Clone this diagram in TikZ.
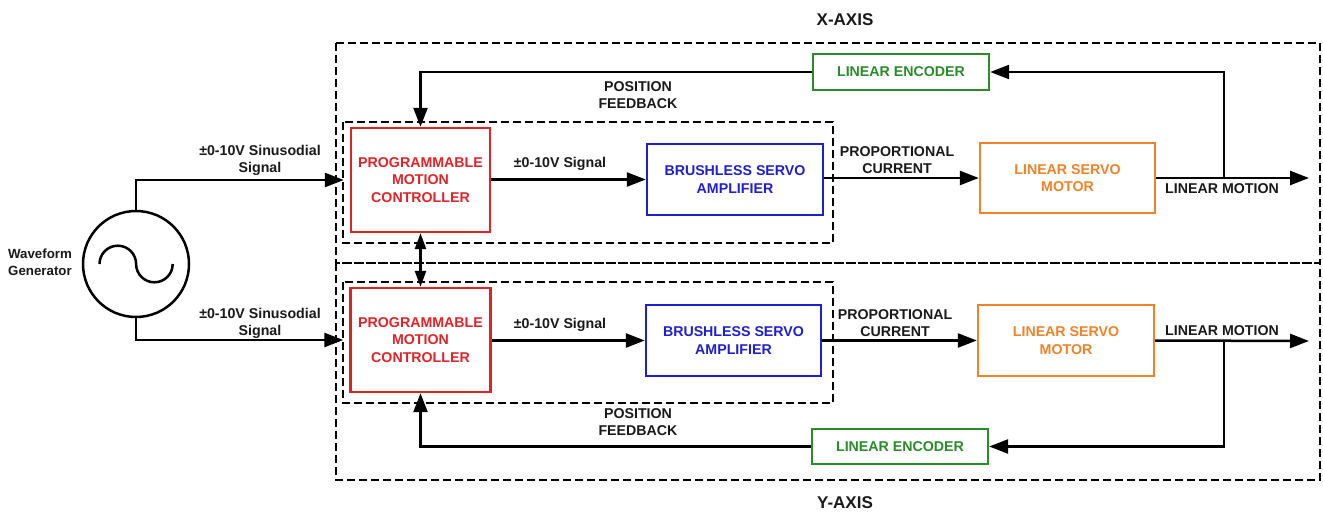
\documentclass[tikz,border=0pt]{standalone}
\usepackage{fontspec}
\setmainfont{Liberation Sans}
\usetikzlibrary{arrows.meta}
\definecolor{cred}{RGB}{225,35,40}
\definecolor{cblue}{RGB}{30,30,210}
\definecolor{corange}{RGB}{240,130,40}
\definecolor{cgreen}{RGB}{40,140,40}
\definecolor{ctext}{RGB}{25,25,25}
\begin{document}
\begin{tikzpicture}[x=1pt,y=1pt,
  lbl/.style={font=\fontsize{14.2}{17}\selectfont\bfseries, align=center, inner sep=0pt, text=ctext},
  blk/.style={draw=#1, text=#1, line width=2.4pt, font=\fontsize{14.2}{17.5}\selectfont\bfseries, align=center, inner sep=0pt},
  conn/.style={line width=2.5pt, -{Triangle[length=19pt,width=14pt]}},
  biconn/.style={line width=2.5pt, {Triangle[length=16pt,width=11pt]}-{Triangle[length=16pt,width=11pt]}},
  wire/.style={line width=2.5pt},
  dbox/.style={line width=2.5pt, dash pattern=on 8pt off 4pt},
]
\useasboundingbox (0,0) rectangle (1323,-514);

% dashed frames
\draw[dbox] (336,-43) rectangle (1320,-263);
\draw[dbox] (336,-263) rectangle (1320,-480);
\draw[dbox] (343,-122) rectangle (833,-243);
\draw[dbox] (343,-282) rectangle (833,-403);

% axis titles
\node[lbl, font=\fontsize{17}{20}\selectfont\bfseries] (xaxis) at (845,-20) {X-AXIS};
\node[lbl, font=\fontsize{17}{20}\selectfont\bfseries] (yaxis) at (845,-503) {Y-AXIS};

% waveform generator
\node[circle, draw, line width=2.5pt, minimum size=106pt, inner sep=0pt] (gen) at (136,-264) {};
\draw[wire] (99.5,-264) arc[start angle=180,end angle=0,radius=18.3] arc[start angle=180,end angle=360,radius=18.3];
\node[lbl, font=\fontsize{13.3}{16.5}\selectfont\bfseries] (genlbl) at (40,-262) {Waveform\\Generator};

% X axis blocks
\node[blk=cred, minimum width=139pt, minimum height=104pt] (ctrlX) at (420.5,-180) {PROGRAMMABLE\\MOTION\\CONTROLLER};
\node[blk=cblue, minimum width=176pt, minimum height=71pt] (ampX) at (735,-179.5) {BRUSHLESS SERVO\\AMPLIFIER};
\node[blk=corange, minimum width=175pt, minimum height=70pt] (motX) at (1067.5,-178) {LINEAR SERVO\\MOTOR};
\node[blk=cgreen, minimum width=176pt, minimum height=36pt] (encX) at (901,-72) {LINEAR ENCODER};

% Y axis blocks
\node[blk=cred, minimum width=140pt, minimum height=104pt] (ctrlY) at (420.5,-340) {PROGRAMMABLE\\MOTION\\CONTROLLER};
\node[blk=cblue, minimum width=175pt, minimum height=71pt] (ampY) at (733.5,-340.5) {BRUSHLESS SERVO\\AMPLIFIER};
\node[blk=corange, minimum width=176pt, minimum height=71pt] (motY) at (1066,-340.5) {LINEAR SERVO\\MOTOR};
\node[blk=cgreen, minimum width=176pt, minimum height=35pt] (encY) at (900,-446.5) {LINEAR ENCODER};

% coordinates
\coordinate (outX) at (1309,-178);
\coordinate (outY) at (1309,-341);
\coordinate (brX) at (1224,-178);
\coordinate (brY) at (1224,-341);

% generator connections
\draw[conn, shorten >=6pt] (gen.north) |- (ctrlX.west);
\draw[conn, shorten >=6pt] (gen.south) |- (ctrlY.west);

% X chain
\draw[conn] (ctrlX.east |- ampX.west) -- (ampX.west);
\draw[conn] (ampX.east |- motX.west) -- (motX.west);
\draw[conn] (motX.east) -- (outX);
\draw[conn] (brX) |- (encX.east);
\draw[conn] (encX.west) -| (ctrlX.north);

% Y chain
\draw[conn] (ctrlY.east |- ampY.west) -- (ampY.west);
\draw[conn] (ampY.east |- motY.west) -- (motY.west);
\draw[conn] (motY.east) -- (outY);
\draw[conn] (brY) |- (encY.east);
\draw[conn] (encY.west) -| (ctrlY.south);

% controller link
\draw[biconn] (ctrlX.south) -- (ctrlY.north);

% labels
\node[lbl] (sinX) at (260,-160) {±0-10V Sinusodial\\Signal};
\node[lbl] (sinY) at (260,-323) {±0-10V Sinusodial\\Signal};
\node[lbl] (sigX) at (560,-164) {±0-10V Signal};
\node[lbl] (sigY) at (560,-325) {±0-10V Signal};
\node[lbl] (propX) at (897,-160) {PROPORTIONAL\\CURRENT};
\node[lbl] (propY) at (895,-323) {PROPORTIONAL\\CURRENT};
\node[lbl] (motionX) at (1222,-189) {LINEAR MOTION};
\node[lbl] (motionY) at (1222,-331) {LINEAR MOTION};
\node[lbl] (fbX) at (638,-95) {POSITION\\FEEDBACK};
\node[lbl] (fbY) at (638,-422) {POSITION\\FEEDBACK};
\end{tikzpicture}
\end{document}
